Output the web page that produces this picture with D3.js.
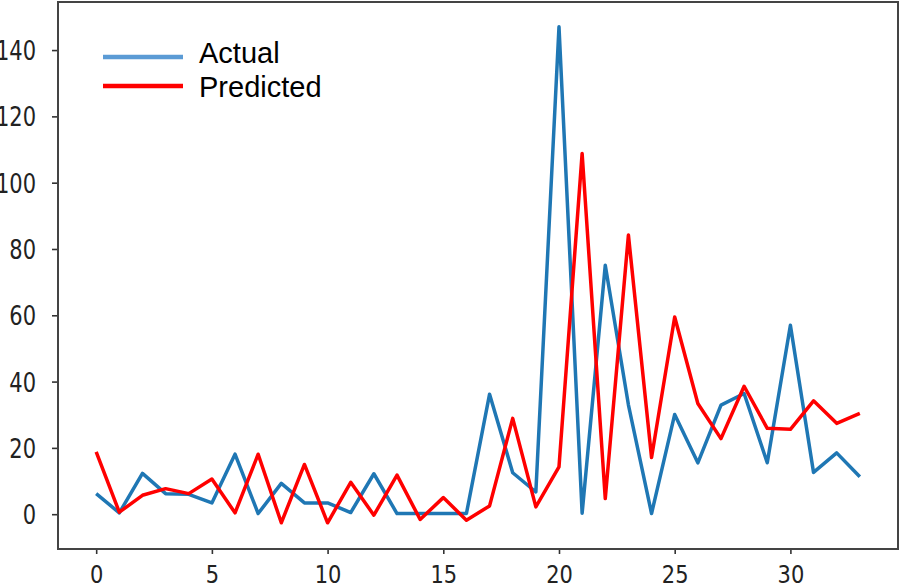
<!DOCTYPE html>
<html>
<head>
<meta charset="utf-8">
<script src="https://cdn.jsdelivr.net/npm/d3@7"></script>
<style>
  body { margin: 0; background: #fff; }
  svg { display: block; }
</style>
</head>
<body>
<svg id="chart"></svg>
<script>
// values
const steps = d3.range(0, 34);
const actual = [6.2, 0.4, 12.3, 6.2, 6.0, 3.4, 18.1, 0.2, 9.3, 3.4,
                3.4, 0.5, 12.2, 0.2, 0.2, 0.2, 0.2, 36.2, 12.5, 6.7,
                147, 0.3, 75.1, 33, 0.2, 30.1, 15.5, 32.9, 36.4, 15.5,
                57, 12.6, 18.5, 11.3];
const predicted = [18.8, 0.6, 5.7, 7.7, 6.2, 10.6, 0.4, 18.1, -2.6, 15.0,
                   -2.6, 9.6, -0.3, 11.8, -1.6, 5.0, -1.8, 2.5, 28.9, 2.2,
                   14.3, 108.8, 4.7, 84.2, 17.1, 59.5, 33.4, 22.8, 38.6, 25.9,
                   25.6, 34.2, 27.4, 30.4];
const xTicks = [0, 5, 10, 15, 20, 25, 30];
const yTicks = [0, 20, 40, 60, 80, 100, 120, 140];
const legendNames = ["Actual", "Predicted"];
const legendColors = ["#5b9bd5", "#ff0000"];

let w = 902, h = 588;
let plotLeft = 58, plotRight = 898, plotTop = 2, plotBottom = 549;

const svg = d3.select("#chart").attr("width", w).attr("height", h);

let xScale = d3.scaleLinear().domain([-1.65, 34.65]).range([plotLeft, plotRight]);
let yScale = d3.scaleLinear().domain([-10.5, 154.5]).range([plotBottom, plotTop]);

let xAxis = d3.axisBottom(xScale).tickValues(xTicks).tickSize(5).tickFormat(d3.format("d"));
let yAxis = d3.axisLeft(yScale).tickValues(yTicks).tickSize(6).tickFormat(d3.format("d"));

const gx = svg.append("g")
    .attr("transform", `translate(0, ${plotBottom})`)
    .call(xAxis);
const gy = svg.append("g")
    .attr("transform", `translate(${plotLeft}, 0)`)
    .call(yAxis);

[gx, gy].forEach(g => {
  g.select(".domain").remove();
  g.selectAll(".tick line").attr("stroke", "#333").attr("stroke-width", 1.6);
  g.selectAll(".tick text")
    .attr("fill", "#222")
    .style("font-family", "'DejaVu Sans', sans-serif")
    .style("font-size", "21px");
});

// the picture is a bit stretched vertically, so are the tick labels
gx.selectAll(".tick text")
  .attr("y", 0).attr("dy", null)
  .attr("transform", "translate(0, 34) scale(1, 1.15)");
gy.selectAll(".tick text")
  .attr("x", 0).attr("dy", "0.36em")
  .attr("transform", "translate(-22, 0) scale(1, 1.25)");

let line = d3.line()
    .x((d, i) => xScale(steps[i]))
    .y(d => yScale(d));

svg.append("path")
    .datum(actual)
    .attr("d", line)
    .style("stroke", "#1f77b4")
    .style("stroke-width", "3.5px")
    .style("stroke-linejoin", "round")
    .style("fill", "none");

svg.append("path")
    .datum(predicted)
    .attr("d", line)
    .style("stroke", "#ff0000")
    .style("stroke-width", "3.5px")
    .style("stroke-linejoin", "round")
    .style("fill", "none");

// frame
svg.append("rect")
    .attr("x", plotLeft).attr("y", plotTop)
    .attr("width", plotRight - plotLeft).attr("height", plotBottom - plotTop)
    .attr("fill", "none")
    .attr("stroke", "#444")
    .attr("stroke-width", 2);

// legend
const legend = svg.append("g");
legendNames.forEach((name, i) => {
  let ly = 57 + i * 29;
  legend.append("line")
      .attr("x1", 103).attr("x2", 183)
      .attr("y1", ly).attr("y2", ly)
      .attr("stroke", legendColors[i])
      .attr("stroke-width", 4.5);
  legend.append("text")
      .attr("x", 199).attr("y", 63 + i * 34)
      .style("font-family", "'Liberation Sans', Arial, sans-serif")
      .style("font-size", "29px")
      .attr("fill", "#000")
      .text(name);
});
</script>
</body>
</html>
